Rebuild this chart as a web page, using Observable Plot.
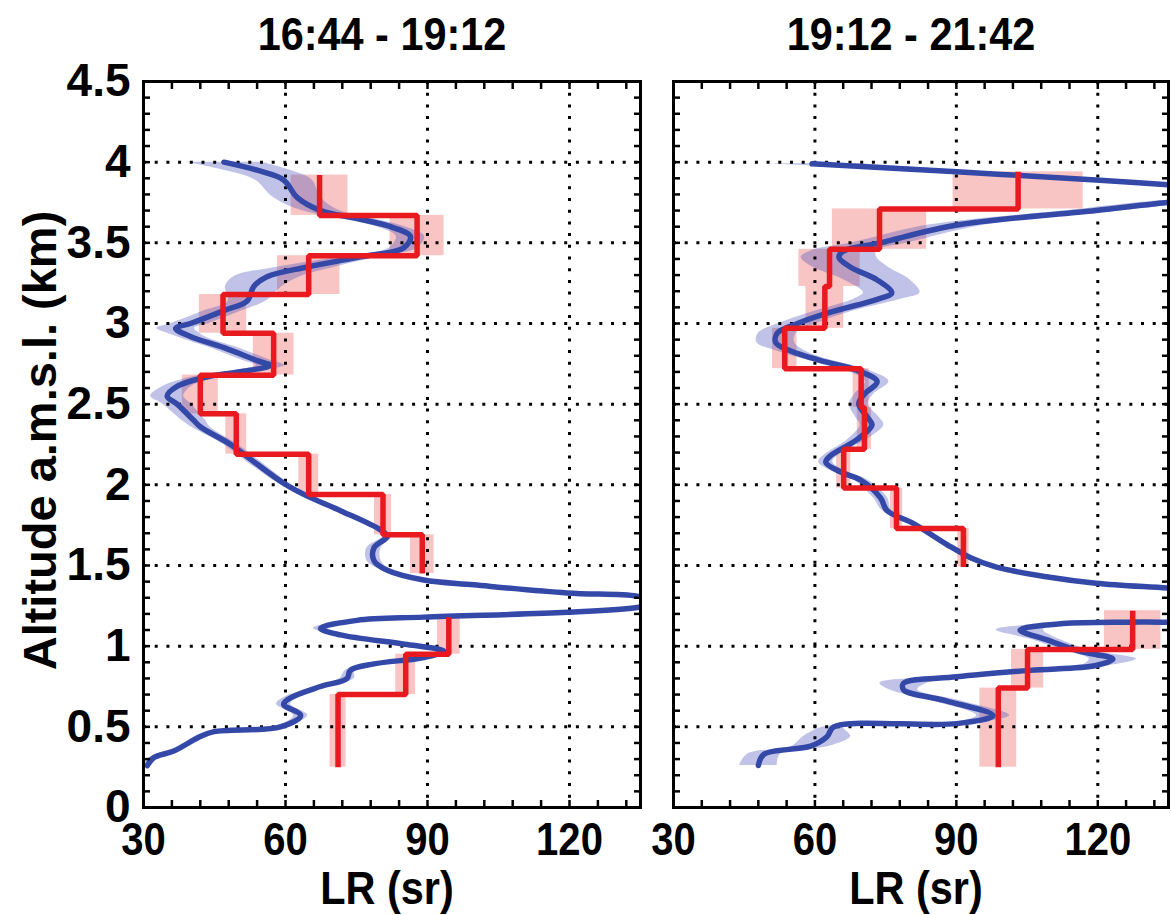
<!DOCTYPE html>
<html>
<head>
<meta charset="utf-8">
<script src="https://cdn.jsdelivr.net/npm/d3@7"></script>
<script src="https://cdn.jsdelivr.net/npm/@observablehq/plot@0.6"></script>
<style>
  body { margin: 0; background: #fff; }
  #chart { position: relative; width: 1171px; height: 915px; overflow: hidden; }
  #chart svg { position: absolute; top: 0; overflow: visible; }
</style>
</head>
<body>
<div id="chart"></div>
<script>
// ---------- Data ----------
const panelTitles = ["16:44 - 19:12", "19:12 - 21:42"];
const xLabel = "LR (sr)";
const yLabel = "Altitude a.m.s.l. (km)";
const xTickValues = [30, 60, 90, 120];
const yTickValues = [0, 0.5, 1, 1.5, 2, 2.5, 3, 3.5, 4, 4.5];
const xGridValues = [60, 90, 120];
const yGridValues = [0.5, 1, 1.5, 2, 2.5, 3, 3.5, 4];

// Left panel: blue continuous LR profile (with uncertainty)
const leftBlueLR = [47.0, 54.0, 59.6, 62.5, 67.4, 75.2, 82.2, 86.4, 85.0, 75.2, 64.6, 56.1, 53.3, 51.9, 47.0, 39.9, 36.8, 39.9, 47.0, 54.0, 56.8, 52.6, 43.5, 37.1, 35.0, 37.1, 40.6, 42.0, 48.4, 53.0, 59.6, 64.6, 71.6, 80.1, 81.5, 78.7, 78.7, 81.5, 89.2, 99.8, 119.5, 134.3, 139.0, 134.3, 119.5, 89.2, 75.1, 67.4, 71.6, 85.7, 93.4, 89.2, 78.7, 73.7, 73.0, 67.4, 61.1, 59.6, 63.2, 58.9, 44.9, 42.0, 36.4, 32.2, 30.8];
const leftBlueAlt = [4.00, 3.95, 3.89, 3.78, 3.70, 3.65, 3.60, 3.54, 3.47, 3.41, 3.35, 3.29, 3.23, 3.14, 3.08, 3.00, 2.97, 2.92, 2.85, 2.77, 2.74, 2.71, 2.67, 2.61, 2.55, 2.50, 2.40, 2.36, 2.25, 2.15, 2.01, 1.93, 1.84, 1.72, 1.68, 1.61, 1.53, 1.47, 1.41, 1.38, 1.33, 1.31, 1.275, 1.24, 1.21, 1.18, 1.16, 1.11, 1.07, 1.01, 0.97, 0.93, 0.89, 0.85, 0.80, 0.75, 0.68, 0.64, 0.57, 0.50, 0.47, 0.44, 0.35, 0.31, 0.26];
const leftBlueErr = [8, 7, 6, 5, 4, 3.5, 3, 3, 3, 4, 6, 7, 6, 4, 4, 4, 4, 3, 3, 3, 3, 3, 3, 3, 3.5, 3, 2.5, 2, 1.5, 1.5, 1.2, 1.2, 1, 1, 1, 1.5, 1.5, 1, 1, 1, 1, 1, 1, 1, 1, 1, 1, 1.5, 1, 1, 1.5, 1, 1, 1, 1.5, 1, 1.5, 1.5, 1.5, 1, 1.5, 1, 1, 1, 1];

// Left panel: red layer-mean LR steps (with error boxes)
const leftBinTop    = [3.92, 3.67, 3.42, 3.18, 2.94, 2.68, 2.44, 2.19, 1.94, 1.69, 1.18, 0.95, 0.70];
const leftBinBottom = [3.67, 3.42, 3.18, 2.94, 2.68, 2.44, 2.19, 1.94, 1.69, 1.45, 0.95, 0.70, 0.25];
const leftBinLR     = [67.2, 87.8, 64.9, 46.8, 57.5, 42.0, 49.6, 64.9, 80.6, 88.9, 94.5, 85.4, 71.1];
const leftBinErr    = [6.0, 5.7, 6.6, 5.0, 4.3, 3.8, 2.2, 2.1, 1.8, 2.5, 2.4, 2.1, 1.7];
const leftBinGroup  = ["upper", "upper", "upper", "upper", "upper", "upper", "upper", "upper", "upper", "upper", "lower", "lower", "lower"];

// Right panel: blue continuous LR profile
const rightBlueLR = [59.4, 90.1, 119.6, 134.8, 158.0, 134.8, 119.6, 90.1, 73.9, 66.1, 65.1, 67.5, 73.2, 76.3, 73.2, 63.3, 56.3, 52.0, 51.7, 54.9, 61.2, 68.9, 73.2, 70.4, 69.3, 71.1, 72.1, 68.9, 63.3, 62.3, 65.4, 69.7, 73.9, 75.3, 80.9, 88.0, 92.9, 98.5, 109.1, 119.6, 134.8, 150.0, 160.0, 150.0, 128.8, 112.6, 103.5, 109.1, 116.1, 123.2, 119.6, 105.6, 90.1, 78.8, 78.8, 88.0, 97.8, 90.1, 64.0, 62.6, 59.1, 49.2, 48.0];
const rightBlueAlt = [3.99, 3.94, 3.89, 3.86, 3.805, 3.75, 3.70, 3.61, 3.50, 3.45, 3.41, 3.35, 3.27, 3.19, 3.15, 3.07, 3.00, 2.94, 2.88, 2.83, 2.77, 2.71, 2.64, 2.56, 2.50, 2.42, 2.37, 2.28, 2.18, 2.14, 2.08, 2.03, 1.92, 1.84, 1.76, 1.63, 1.55, 1.49, 1.43, 1.39, 1.36, 1.33, 1.25, 1.16, 1.15, 1.14, 1.10, 1.04, 0.97, 0.92, 0.88, 0.85, 0.81, 0.77, 0.73, 0.66, 0.57, 0.52, 0.50, 0.44, 0.38, 0.33, 0.26];
const rightBlueErr = [10, 6, 6, 6, 6, 6, 6, 6, 6, 7, 8, 8, 7, 6, 5, 4, 4, 4, 4, 3, 2.5, 2.5, 2.5, 2, 2, 2.5, 2.5, 2, 1.5, 1.5, 1.5, 1.5, 1.5, 1, 1, 1, 1, 1, 1, 1, 1, 1, 1, 1, 2, 2, 5, 3, 3, 5, 3, 2, 3, 5, 3, 3, 3.5, 2, 2, 5, 4, 3.5, 4];

// Right panel: red steps
const rightBinTop    = [3.94, 3.71, 3.46, 3.23, 2.97, 2.72, 2.48, 2.22, 1.98, 1.73, 1.22, 0.98, 0.74];
const rightBinBottom = [3.71, 3.46, 3.23, 2.97, 2.72, 2.48, 2.22, 1.98, 1.73, 1.49, 0.98, 0.74, 0.25];
const rightBinLR     = [103.1, 73.7, 63.1, 62.1, 53.6, 69.8, 70.5, 66.1, 77.3, 91.5, 127.4, 105.1, 98.9];
const rightBinErr    = [13.8, 10.0, 6.5, 4.0, 2.6, 1.7, 1.5, 1.5, 1.3, 1.2, 6.0, 3.4, 3.9];
const rightBinGroup  = ["upper", "upper", "upper", "upper", "upper", "upper", "upper", "upper", "upper", "upper", "lower", "lower", "lower"];

// ---------- Build tables ----------
function blueTable(lr, alt, err) {
  return lr.map((v, i) => ({lr: v, alt: alt[i], err: err[i]}));
}
function binTable(top, bottom, lr, err, group) {
  return lr.map((v, i) => ({lr: v, top: top[i], bottom: bottom[i], err: err[i], group: group[i]}));
}
function stepTable(bins) {
  const pts = [];
  for (const b of bins) {
    pts.push({lr: b.lr, alt: b.top, group: b.group});
    pts.push({lr: b.lr, alt: b.bottom, group: b.group});
  }
  return pts;
}

const FONT = "'Liberation Sans', Arial, Helvetica, sans-serif";
const xMinor = d3.range(30, 135, 6);
const yMinor = d3.range(0, 4.55, 0.1).map(v => +v.toFixed(1));

function panel({blue, bins, title, showY, width, marginLeft, marginRight}) {
  const textStyle = {fontFamily: FONT, fontWeight: "bold", fontSize: 46};
  const tickStyle = {tickSize: -7, strokeWidth: 2.5, tickFormat: () => "", label: null};
  const dotted = {stroke: "black", strokeWidth: 3, strokeDasharray: "3,8.7"};
  const marks = [
    Plot.rect(bins, {x1: d => d.lr - d.err, x2: d => d.lr + d.err, y1: "bottom", y2: "top",
      fill: "rgb(232,60,60)", fillOpacity: 0.3, clip: true}),
    Plot.areaX(blue, {y: "alt", x1: d => d.lr - d.err, x2: d => d.lr + d.err,
      fill: "rgb(70,80,185)", fillOpacity: 0.34, curve: "catmull-rom", clip: true}),
    Plot.ruleX(xGridValues, dotted),
    Plot.ruleY(yGridValues, dotted),
    Plot.line(blue, {x: "lr", y: "alt", stroke: "#3448a8", strokeWidth: 5.5, curve: "catmull-rom", clip: true}),
    Plot.line(stepTable(bins), {x: "lr", y: "alt", z: "group", stroke: "#e8191f", strokeWidth: 5.5,
      strokeLinejoin: "miter", strokeLinecap: "butt", clip: true}),
    Plot.frame({stroke: "black", strokeWidth: 3}),
    Plot.axisX(xMinor, {anchor: "bottom", ...tickStyle}),
    Plot.axisX(xMinor, {anchor: "top", ...tickStyle}),
    Plot.axisY(yMinor, {anchor: "left", ...tickStyle}),
    Plot.axisY(yMinor, {anchor: "right", ...tickStyle}),
    Plot.axisX(xTickValues, {anchor: "bottom", tickSize: 0, tickPadding: 15, label: null,
      tickFormat: d => String(d), ...textStyle}),
    Plot.text([title], {frameAnchor: "top", dx: -10, dy: -46, lineAnchor: "middle", textAnchor: "middle", ...textStyle}),
    Plot.text([xLabel], {frameAnchor: "bottom", dx: -5, dy: 82, lineAnchor: "middle", textAnchor: "middle", ...textStyle})
  ];
  if (showY) {
    marks.push(
      Plot.axisY(yTickValues, {anchor: "left", tickSize: 0, tickPadding: 13, label: null,
        tickFormat: d => String(d), ...textStyle}),
      Plot.text([yLabel], {frameAnchor: "left", rotate: -90, dx: -103, dy: -4,
        lineAnchor: "middle", textAnchor: "middle", ...textStyle, fontSize: 47})
    );
  }
  return Plot.plot({
    width, height: 915,
    marginLeft, marginRight, marginTop: 81, marginBottom: 108,
    x: {domain: [30, 135]},
    y: {domain: [0, 4.5]},
    style: {background: "transparent", overflow: "visible", fontFamily: FONT},
    marks
  });
}

// Slightly condensed glyphs for titles, x tick labels and x label (as in the original figure)
function condense(svg) {
  const squeeze = (t, k) => {
    const len = t.getComputedTextLength();
    if (len > 0) {
      t.setAttribute("textLength", (len * k).toFixed(1));
      t.setAttribute("lengthAdjust", "spacingAndGlyphs");
    }
  };
  svg.querySelectorAll('g[aria-label="x-axis tick label"] text').forEach(t => squeeze(t, 0.87));
  svg.querySelectorAll('g[aria-label="text"] text').forEach(t => {
    if (!/rotate/.test(t.getAttribute("transform") || "")) squeeze(t, 0.9);
  });
}

const chart = document.getElementById("chart");
const left = panel({
  blue: blueTable(leftBlueLR, leftBlueAlt, leftBlueErr),
  bins: binTable(leftBinTop, leftBinBottom, leftBinLR, leftBinErr, leftBinGroup),
  title: panelTitles[0], showY: true, width: 655, marginLeft: 143, marginRight: 15
});
left.style.left = "0px";
const right = panel({
  blue: blueTable(rightBlueLR, rightBlueAlt, rightBlueErr),
  bins: binTable(rightBinTop, rightBinBottom, rightBinLR, rightBinErr, rightBinGroup),
  title: panelTitles[1], showY: false, width: 516, marginLeft: 18, marginRight: 3
});
right.style.left = "655px";
chart.appendChild(left);
chart.appendChild(right);
condense(left);
condense(right);
</script>
</body>
</html>
